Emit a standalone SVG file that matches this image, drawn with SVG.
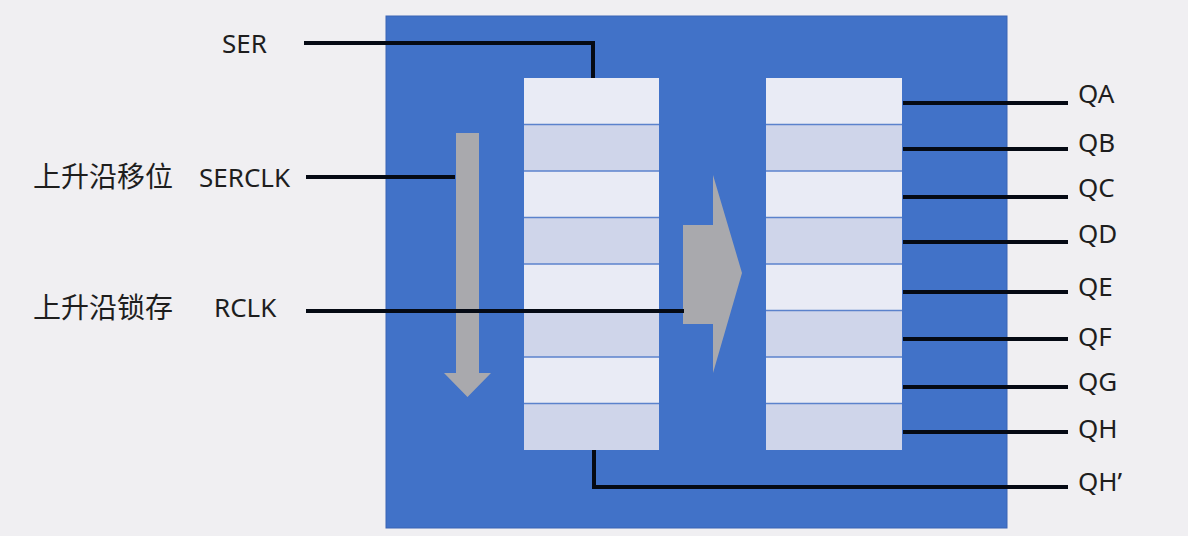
<svg xmlns="http://www.w3.org/2000/svg" width="1188" height="536" viewBox="0 0 1188 536">
<style>
.lbl{font-family:"Noto Sans","Liberation Sans",sans-serif;font-size:26px;fill:#1e1e1e}
.cjk{font-family:"Noto Sans CJK SC","Noto Sans",sans-serif;font-size:28px;fill:#1e1e1e}
.wire{fill:none;stroke:#050a14;stroke-width:4;stroke-linejoin:miter}
.light{fill:#e9ebf5}
.dark{fill:#cfd5ea}
.div{stroke:#5b82cc;stroke-width:1.5}
.gray{fill:#a9a9ad}
</style>
<rect x="0" y="0" width="1188" height="536" fill="#f0eff2"/>
<g id="chip">
<rect x="386" y="16" width="621" height="512" fill="#4172c8" stroke="#3a65b4" stroke-width="1"/>
</g>
<g id="shift-register">
<rect class="light" x="524" y="78" width="135" height="46.5"/>
<rect class="dark" x="524" y="124.5" width="135" height="46.5"/>
<rect class="light" x="524" y="171" width="135" height="46.5"/>
<rect class="dark" x="524" y="217.5" width="135" height="46.5"/>
<rect class="light" x="524" y="264" width="135" height="46.5"/>
<rect class="dark" x="524" y="310.5" width="135" height="46.5"/>
<rect class="light" x="524" y="357" width="135" height="46.5"/>
<rect class="dark" x="524" y="403.5" width="135" height="46.5"/>
<line class="div" x1="524" y1="124.5" x2="659" y2="124.5"/>
<line class="div" x1="524" y1="171" x2="659" y2="171"/>
<line class="div" x1="524" y1="217.5" x2="659" y2="217.5"/>
<line class="div" x1="524" y1="264" x2="659" y2="264"/>
<line class="div" x1="524" y1="310.5" x2="659" y2="310.5"/>
<line class="div" x1="524" y1="357" x2="659" y2="357"/>
<line class="div" x1="524" y1="403.5" x2="659" y2="403.5"/>
</g>
<g id="storage-register">
<rect class="light" x="766" y="78" width="136" height="46.5"/>
<rect class="dark" x="766" y="124.5" width="136" height="46.5"/>
<rect class="light" x="766" y="171" width="136" height="46.5"/>
<rect class="dark" x="766" y="217.5" width="136" height="46.5"/>
<rect class="light" x="766" y="264" width="136" height="46.5"/>
<rect class="dark" x="766" y="310.5" width="136" height="46.5"/>
<rect class="light" x="766" y="357" width="136" height="46.5"/>
<rect class="dark" x="766" y="403.5" width="136" height="46.5"/>
<line class="div" x1="766" y1="124.5" x2="902" y2="124.5"/>
<line class="div" x1="766" y1="171" x2="902" y2="171"/>
<line class="div" x1="766" y1="217.5" x2="902" y2="217.5"/>
<line class="div" x1="766" y1="264" x2="902" y2="264"/>
<line class="div" x1="766" y1="310.5" x2="902" y2="310.5"/>
<line class="div" x1="766" y1="357" x2="902" y2="357"/>
<line class="div" x1="766" y1="403.5" x2="902" y2="403.5"/>
</g>
<g id="shift-arrow">
<polygon class="gray" points="456,133 479,133 479,373 491,373 467.5,397 444,373 456,373"/>
</g>
<g id="latch-arrow">
<polygon class="gray" points="683,225 713,225 713,175 742,273 713,373 713,324 683,324"/>
</g>
<g id="connectors">
<polyline class="wire" points="304,43 593,43 593,78"/>
<line class="wire" x1="306" y1="177" x2="455" y2="177"/>
<line class="wire" x1="306" y1="311" x2="684" y2="311"/>
<polyline class="wire" points="594,450 594,487 1068,487"/>
<line class="wire" x1="903" y1="103" x2="1068" y2="103"/>
<line class="wire" x1="903" y1="149" x2="1068" y2="149"/>
<line class="wire" x1="903" y1="197" x2="1068" y2="197"/>
<line class="wire" x1="903" y1="242" x2="1068" y2="242"/>
<line class="wire" x1="903" y1="292" x2="1068" y2="292"/>
<line class="wire" x1="903" y1="339" x2="1068" y2="339"/>
<line class="wire" x1="903" y1="387" x2="1068" y2="387"/>
<line class="wire" x1="903" y1="432" x2="1068" y2="432"/>
</g>
<g id="labels">
<text class="lbl" x="222" y="53">SER</text>
<text class="cjk" x="33" y="187">上升沿移位</text>
<text class="lbl" x="199" y="187">SERCLK</text>
<text class="cjk" x="33" y="318">上升沿锁存</text>
<text class="lbl" x="214" y="317">RCLK</text>
<text class="lbl" x="1078" y="103">QA</text>
<text class="lbl" x="1078" y="152">QB</text>
<text class="lbl" x="1078" y="197">QC</text>
<text class="lbl" x="1078" y="243">QD</text>
<text class="lbl" x="1078" y="296">QE</text>
<text class="lbl" x="1078" y="346">QF</text>
<text class="lbl" x="1078" y="391">QG</text>
<text class="lbl" x="1078" y="438">QH</text>
<text class="lbl" x="1078" y="491">QH’</text>
</g>
</svg>
